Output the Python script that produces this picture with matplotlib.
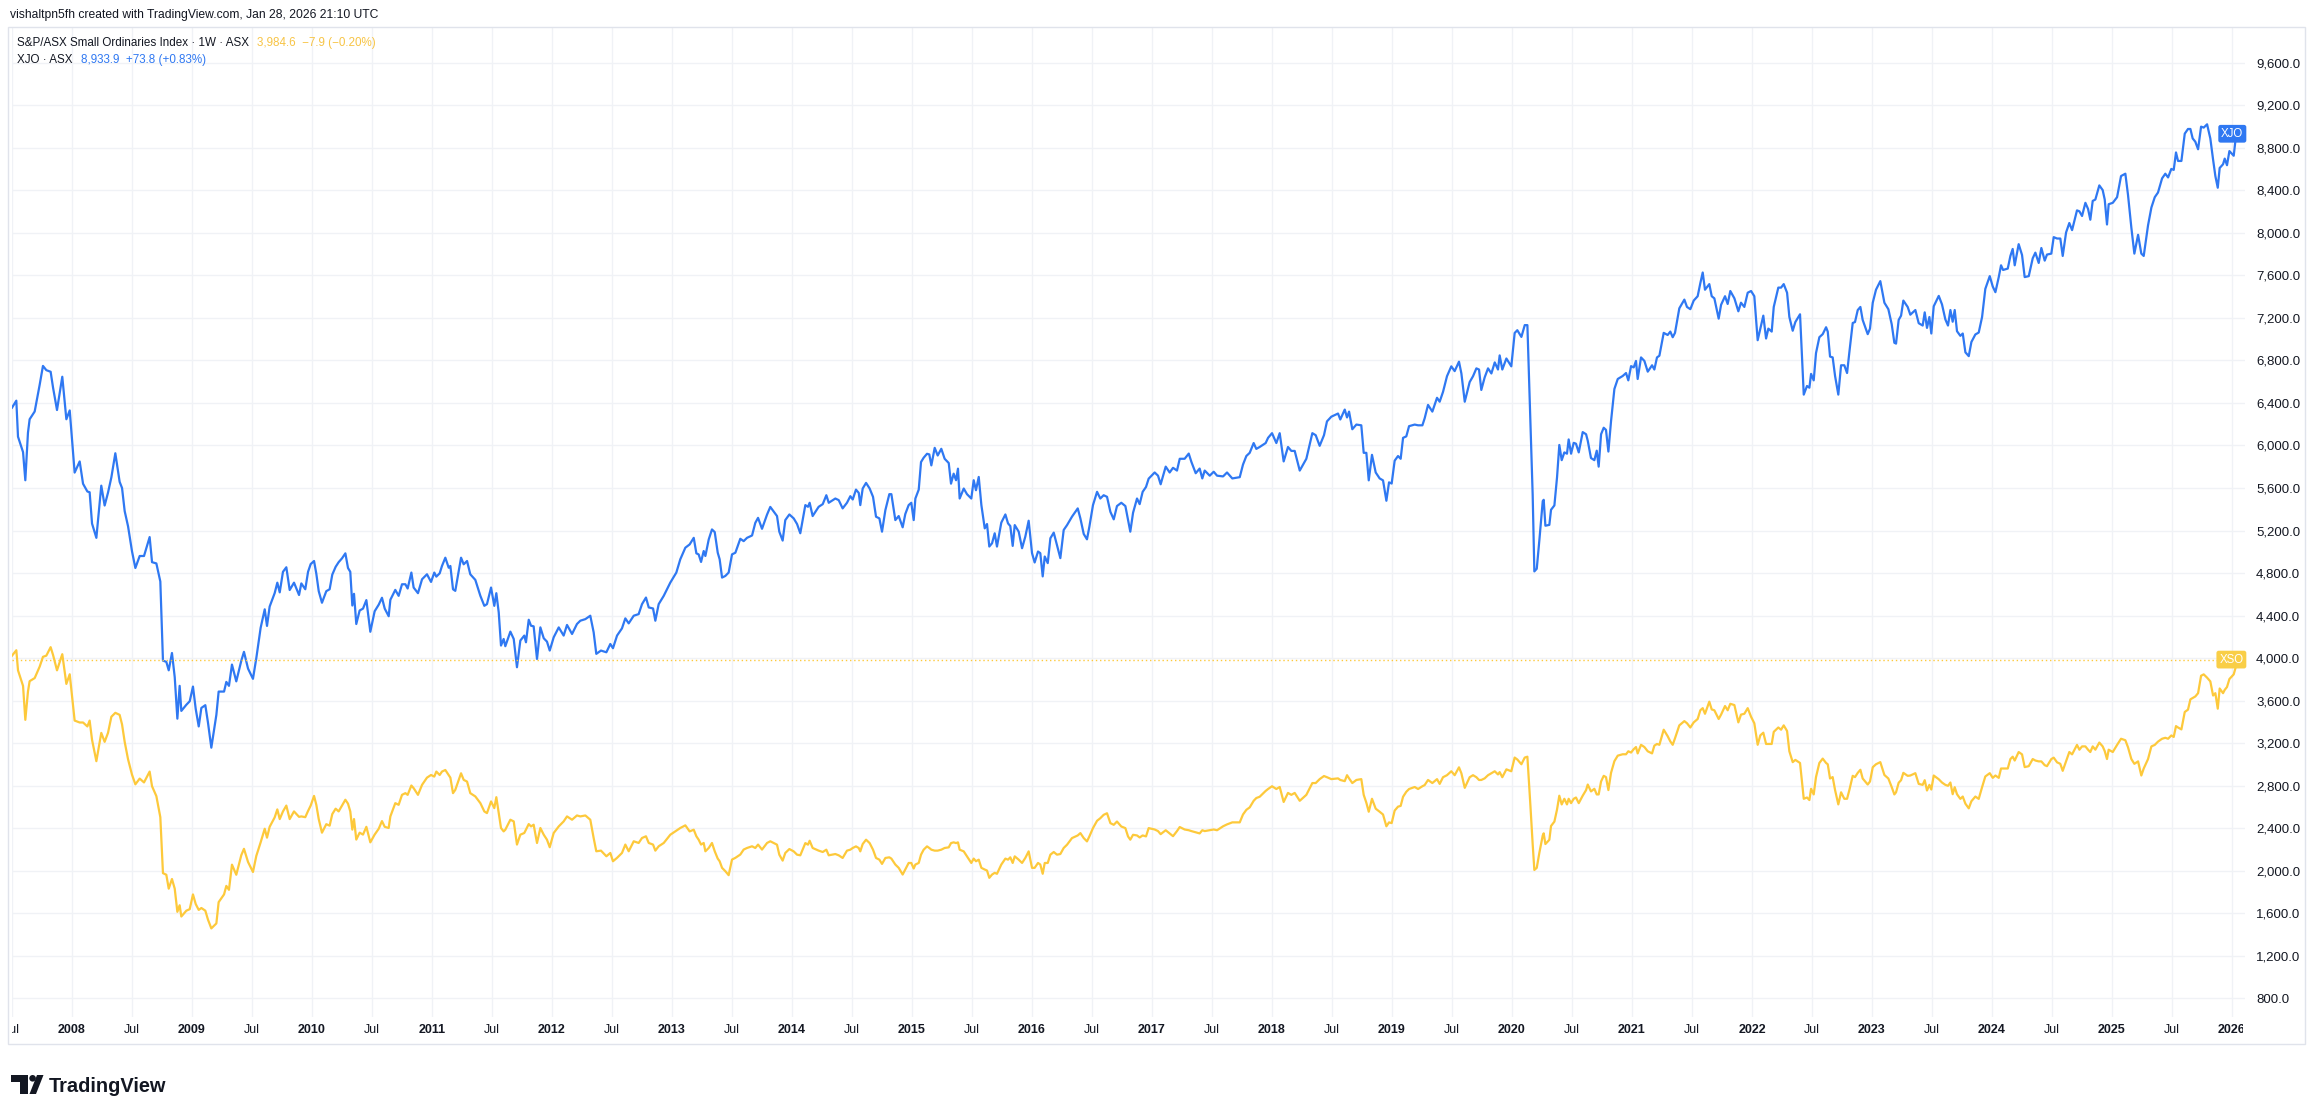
import numpy as np
import matplotlib
matplotlib.use('Agg')
from matplotlib import pyplot as plt
from matplotlib.patches import Rectangle, Circle, Polygon
from matplotlib.ticker import FuncFormatter
import matplotlib.transforms as mtransforms

W, H = 2315, 1103

# weekly closes, decimal years
weeks = [
    2007.500, 2007.536, 2007.550, 2007.592, 2007.611, 2007.633, 2007.647, 2007.689, 2007.731, 2007.758,
    2007.786, 2007.822, 2007.842, 2007.875, 2007.919, 2007.953, 2007.981, 2008.022, 2008.064, 2008.092,
    2008.128, 2008.147, 2008.167, 2008.203, 2008.244, 2008.272, 2008.300, 2008.328, 2008.361, 2008.397,
    2008.417, 2008.439, 2008.467, 2008.500, 2008.528, 2008.564, 2008.600, 2008.647, 2008.667, 2008.703,
    2008.736, 2008.758, 2008.786, 2008.806, 2008.833, 2008.856, 2008.878, 2008.897, 2008.911, 2008.953,
    2008.981, 2009.008, 2009.031, 2009.056, 2009.078, 2009.111, 2009.133, 2009.161, 2009.203, 2009.222,
    2009.267, 2009.286, 2009.308, 2009.333, 2009.369, 2009.411, 2009.433, 2009.467, 2009.508, 2009.536,
    2009.572, 2009.606, 2009.625, 2009.647, 2009.689, 2009.711, 2009.731, 2009.758, 2009.786, 2009.814,
    2009.850, 2009.892, 2009.911, 2009.944, 2009.967, 2009.989, 2010.017, 2010.036, 2010.056, 2010.083,
    2010.119, 2010.147, 2010.169, 2010.197, 2010.222, 2010.250, 2010.278, 2010.300, 2010.319, 2010.336,
    2010.350, 2010.369, 2010.397, 2010.425, 2010.453, 2010.486, 2010.522, 2010.556, 2010.583, 2010.606,
    2010.639,
    # 2010 H2 - 2013
    2010.653, 2010.694, 2010.722, 2010.750, 2010.778, 2010.797, 2010.828, 2010.847, 2010.883, 2010.917,
    2010.958, 2010.992, 2011.019, 2011.036, 2011.064, 2011.083, 2011.111, 2011.139, 2011.153, 2011.175,
    2011.194, 2011.242, 2011.264, 2011.292, 2011.319, 2011.361, 2011.403, 2011.436, 2011.458, 2011.492,
    2011.519, 2011.536, 2011.556, 2011.575, 2011.597, 2011.611, 2011.653, 2011.681, 2011.708, 2011.736,
    2011.769, 2011.783, 2011.806, 2011.825, 2011.847, 2011.875, 2011.903, 2011.931, 2011.958, 2011.981,
    2012.014, 2012.056, 2012.097, 2012.125, 2012.167, 2012.208, 2012.236, 2012.278, 2012.319, 2012.347,
    2012.369, 2012.408, 2012.453, 2012.486, 2012.508, 2012.542, 2012.583, 2012.611, 2012.639, 2012.681,
    2012.722, 2012.750, 2012.783, 2012.806, 2012.842, 2012.861, 2012.889, 2012.931, 2012.986, 2013.036,
    2013.069, 2013.111, 2013.147, 2013.181, 2013.203, 2013.222, 2013.242, 2013.264, 2013.278, 2013.306,
    2013.333, 2013.356, 2013.381, 2013.397, 2013.417, 2013.444, 2013.472, 2013.500, 2013.528, 2013.569,
    2013.597, 2013.625, 2013.667, 2013.694, 2013.717, 2013.750, 2013.792, 2013.819,
    # 2014 - 2016
    2013.875, 2013.894, 2013.922, 2013.944, 2013.978, 2014.014, 2014.042, 2014.069, 2014.111, 2014.133,
    2014.147, 2014.172, 2014.222, 2014.256, 2014.286, 2014.306, 2014.361, 2014.389, 2014.422, 2014.458,
    2014.486, 2014.506, 2014.533, 2014.556, 2014.569, 2014.589, 2014.617, 2014.647, 2014.675, 2014.700,
    2014.728, 2014.750, 2014.778, 2014.811, 2014.828, 2014.861, 2014.889, 2014.922, 2014.944, 2014.972,
    2014.994, 2015.014, 2015.028, 2015.056, 2015.075, 2015.097, 2015.125, 2015.144, 2015.161, 2015.189,
    2015.214, 2015.244, 2015.272, 2015.306, 2015.325, 2015.347, 2015.367, 2015.383, 2015.397, 2015.431,
    2015.458, 2015.494, 2015.514, 2015.533, 2015.556, 2015.578, 2015.606, 2015.625, 2015.644, 2015.667,
    2015.689, 2015.708, 2015.744, 2015.778, 2015.800, 2015.819, 2015.839, 2015.856, 2015.889, 2015.917,
    2015.944, 2015.972, 2016.000, 2016.022, 2016.050, 2016.069, 2016.089, 2016.106, 2016.131, 2016.153,
    2016.181, 2016.208, 2016.236, 2016.264, 2016.292, 2016.333, 2016.381, 2016.403, 2016.431, 2016.458,
    2016.478, 2016.508, 2016.542, 2016.569, 2016.597, 2016.625, 2016.653, 2016.681, 2016.708, 2016.744,
    2016.778, 2016.800, 2016.819, 2016.842, 2016.875, 2016.897, 2016.922, 2016.950, 2016.972,
    # 2017 - Feb 2020
    2017.022, 2017.050, 2017.072, 2017.114, 2017.147, 2017.175, 2017.208, 2017.231, 2017.272, 2017.306,
    2017.328, 2017.364, 2017.397, 2017.419, 2017.439, 2017.481, 2017.514, 2017.542, 2017.592, 2017.625,
    2017.669, 2017.731, 2017.758, 2017.786, 2017.814, 2017.847, 2017.869, 2017.897, 2017.947, 2017.967,
    2018.000, 2018.036, 2018.064, 2018.097, 2018.133, 2018.161, 2018.189, 2018.231, 2018.286, 2018.336,
    2018.364, 2018.397, 2018.433, 2018.458, 2018.494, 2018.550, 2018.569, 2018.606, 2018.625, 2018.642,
    2018.669, 2018.703, 2018.744, 2018.764, 2018.786, 2018.806, 2018.833, 2018.864, 2018.897, 2018.925,
    2018.953, 2018.975, 2018.997, 2019.022, 2019.050, 2019.072, 2019.092, 2019.119, 2019.142, 2019.189,
    2019.217, 2019.253, 2019.272, 2019.300, 2019.336, 2019.375, 2019.397, 2019.425, 2019.458, 2019.494,
    2019.522, 2019.558, 2019.578, 2019.606, 2019.647, 2019.675, 2019.703, 2019.725, 2019.744, 2019.772,
    2019.800, 2019.828, 2019.856, 2019.883, 2019.897, 2019.919, 2019.953, 2019.994, 2020.022, 2020.044,
    2020.078, 2020.106, 2020.128,
    # Covid crash - Q1 2023
    2020.153, 2020.172, 2020.186, 2020.206, 2020.228, 2020.256, 2020.264, 2020.278, 2020.311, 2020.325,
    2020.353, 2020.375, 2020.394, 2020.414, 2020.436, 2020.458, 2020.472, 2020.492, 2020.514, 2020.533,
    2020.556, 2020.589, 2020.617, 2020.631, 2020.658, 2020.686, 2020.706, 2020.722, 2020.742, 2020.764,
    2020.783, 2020.803, 2020.825, 2020.853, 2020.881, 2020.922, 2020.950, 2020.969, 2020.992, 2021.014,
    2021.033, 2021.047, 2021.075, 2021.103, 2021.131, 2021.167, 2021.186, 2021.208, 2021.228, 2021.264,
    2021.297, 2021.319, 2021.339, 2021.358, 2021.394, 2021.436, 2021.458, 2021.486, 2021.514, 2021.547,
    2021.569, 2021.589, 2021.608, 2021.644, 2021.664, 2021.686, 2021.722, 2021.742, 2021.775, 2021.797,
    2021.819, 2021.853, 2021.886, 2021.908, 2021.936, 2021.964, 2021.992, 2022.019, 2022.047, 2022.069,
    2022.094, 2022.117, 2022.136, 2022.164, 2022.181, 2022.219, 2022.242, 2022.264, 2022.292, 2022.311,
    2022.339, 2022.361, 2022.400, 2022.431, 2022.458, 2022.478, 2022.492, 2022.514, 2022.533, 2022.561,
    2022.589, 2022.617, 2022.631, 2022.650, 2022.672, 2022.692, 2022.719, 2022.742, 2022.769, 2022.792,
    2022.811, 2022.839, 2022.858, 2022.881, 2022.903, 2022.922, 2022.964, 2022.983, 2023.006, 2023.033,
    2023.069, 2023.103, 2023.136, 2023.164, 2023.186, 2023.200, 2023.222, 2023.242, 2023.261, 2023.297,
    # Q2 2023 - Jan 2026
    2023.319, 2023.361, 2023.389, 2023.422, 2023.439, 2023.458, 2023.478, 2023.494, 2023.514, 2023.556,
    2023.583, 2023.611, 2023.633, 2023.653, 2023.672, 2023.689, 2023.708, 2023.736, 2023.756, 2023.778,
    2023.806, 2023.828, 2023.861, 2023.889, 2023.917, 2023.944, 2023.981, 2024.006, 2024.028, 2024.056,
    2024.075, 2024.092, 2024.131, 2024.153, 2024.172, 2024.189, 2024.222, 2024.250, 2024.272, 2024.306,
    2024.339, 2024.361, 2024.389, 2024.411, 2024.439, 2024.458, 2024.494, 2024.514, 2024.542, 2024.569,
    2024.589, 2024.617, 2024.644, 2024.667, 2024.708, 2024.728, 2024.750, 2024.778, 2024.800, 2024.819,
    2024.839, 2024.861, 2024.894, 2024.922, 2024.939, 2024.958, 2024.972, 2025.006, 2025.042, 2025.075,
    2025.111, 2025.133, 2025.161, 2025.186, 2025.217, 2025.244, 2025.264, 2025.300, 2025.328, 2025.356,
    2025.383, 2025.417, 2025.444, 2025.467, 2025.494, 2025.514, 2025.533, 2025.550, 2025.578, 2025.606,
    2025.633, 2025.653, 2025.672, 2025.694, 2025.717, 2025.742, 2025.764, 2025.792, 2025.819, 2025.842,
    2025.861, 2025.881, 2025.897, 2025.925, 2025.939, 2025.958, 2025.978, 2026.014, 2026.028, 2026.050,
]

xjo = [
    6356, 6422, 6083, 5938, 5673, 6120, 6247, 6320, 6574, 6749,
    6709, 6694, 6545, 6334, 6647, 6247, 6330, 5745, 5850, 5640,
    5567, 5560, 5265, 5131, 5622, 5435, 5556, 5700, 5927, 5658,
    5600, 5382, 5240, 5004, 4847, 4960, 4960, 5138, 4902, 4890,
    4720, 3975, 3964, 3884, 4047, 3820, 3429, 3738, 3502, 3560,
    3593, 3731, 3520, 3356, 3530, 3556, 3393, 3156, 3465, 3684,
    3684, 3775, 3738, 3938, 3780, 3975, 4058, 3900, 3804, 4000,
    4284, 4458, 4302, 4484, 4611, 4709, 4618, 4811, 4854, 4640,
    4709, 4593, 4702, 4647, 4811, 4884, 4913, 4793, 4629, 4520,
    4629, 4647, 4785, 4858, 4902, 4938, 4985, 4847, 4811, 4494,
    4604, 4320, 4447, 4465, 4545, 4247, 4440, 4502, 4567, 4465,
    4393,
    4548, 4641, 4585, 4694, 4694, 4654, 4804, 4663, 4610, 4741,
    4788, 4716, 4804, 4766, 4797, 4866, 4944, 4850, 4866, 4647,
    4632, 4944, 4882, 4913, 4788, 4735, 4585, 4491, 4507, 4663,
    4491, 4610, 4429, 4117, 4179, 4111, 4248, 4179, 3913, 4164,
    4211, 4148, 4360, 4304, 4298, 3991, 4288, 4186, 4154, 4070,
    4195, 4288, 4211, 4311, 4226, 4320, 4351, 4366, 4398, 4242,
    4039, 4070, 4054, 4132, 4092, 4211, 4279, 4373, 4326, 4398,
    4413, 4507, 4569, 4476, 4466, 4351, 4507, 4585, 4710, 4804,
    4929, 5038, 5069, 5131, 4985, 4975, 4904, 5007, 4960, 5116,
    5210, 5185, 4991, 4929, 4757, 4772, 4804, 4975, 4991, 5122,
    5100, 5131, 5153, 5272, 5319, 5216, 5350, 5422,
    5336, 5189, 5105, 5298, 5351, 5314, 5261, 5174, 5439, 5423,
    5461, 5336, 5423, 5448, 5532, 5461, 5501, 5486, 5408, 5461,
    5523, 5492, 5585, 5554, 5439, 5595, 5648, 5595, 5517, 5330,
    5314, 5189, 5392, 5542, 5542, 5298, 5336, 5230, 5355, 5439,
    5461, 5298, 5501, 5585, 5844, 5885, 5922, 5916, 5813, 5978,
    5906, 5969, 5875, 5835, 5641, 5735, 5673, 5782, 5501, 5595,
    5542, 5501, 5673, 5579, 5704, 5439, 5220, 5261, 5049, 5080,
    5174, 5049, 5274, 5351, 5267, 5242, 5055, 5251, 5189, 5033,
    5142, 5292, 4987, 4899, 5002, 4987, 4768, 4955, 4893, 5127,
    5180, 5064, 4940, 5205, 5251, 5330, 5408, 5314, 5167, 5117,
    5236, 5439, 5564, 5501, 5532, 5517, 5376, 5305, 5430, 5461,
    5430, 5298, 5189, 5367, 5501, 5448, 5564, 5610, 5688,
    5746, 5716, 5635, 5801, 5746, 5790, 5764, 5875, 5875, 5924,
    5846, 5739, 5783, 5690, 5764, 5716, 5753, 5716, 5709, 5746,
    5690, 5702, 5820, 5901, 5931, 6023, 5968, 5986, 6023, 6072,
    6116, 6023, 6116, 5850, 5986, 5949, 5949, 5764, 5875, 6116,
    6097, 5997, 6097, 6227, 6271, 6301, 6245, 6338, 6264, 6319,
    6153, 6197, 6190, 5931, 5931, 5672, 5912, 5746, 5690, 5672,
    5480, 5653, 5642, 5857, 5901, 5875, 6072, 6086, 6182, 6197,
    6190, 6190, 6256, 6382, 6319, 6449, 6412, 6505, 6652, 6745,
    6700, 6789, 6678, 6412, 6597, 6652, 6726, 6715, 6523, 6641,
    6726, 6678, 6782, 6715, 6848, 6715, 6819, 6745, 7059, 7085,
    7022, 7133, 7133,
    6228, 5538, 4815, 4840, 5111, 5477, 5489, 5245, 5253, 5395,
    5436, 5700, 6005, 5862, 5935, 5923, 6057, 5923, 6025, 6017,
    5935, 6126, 6106, 6045, 5882, 5862, 5951, 5801, 6106, 6167,
    6147, 5943, 6228, 6532, 6626, 6654, 6682, 6613, 6747, 6735,
    6796, 6626, 6829, 6796, 6695, 6755, 6715, 6829, 6845, 7060,
    7040, 7072, 7019, 7060, 7291, 7373, 7304, 7283, 7364, 7405,
    7527, 7628, 7466, 7519, 7405, 7385, 7194, 7324, 7405, 7332,
    7454, 7385, 7263, 7344, 7304, 7438, 7454, 7405, 6991, 7100,
    7222, 7007, 7100, 7072, 7304, 7486, 7486, 7519, 7438, 7210,
    7080, 7162, 7235, 6479, 6560, 6544, 6674, 6613, 6869, 7019,
    7048, 7113, 7072, 6837, 6829, 6654, 6479, 6755, 6755, 6682,
    6877, 7153, 7162, 7275, 7304, 7182, 7048, 7100, 7344, 7466,
    7547, 7344, 7283, 7141, 6967, 6959, 7182, 7222, 7364, 7304,
    7231, 7275, 7151, 7129, 7253, 7107, 7209, 7054, 7310, 7408,
    7328, 7187, 7129, 7275, 7165, 7275, 7076, 7032, 7054, 6877,
    6841, 6974, 7045, 7063, 7209, 7474, 7594, 7496, 7443, 7585,
    7696, 7652, 7665, 7784, 7850, 7696, 7895, 7793, 7585, 7594,
    7762, 7815, 7718, 7859, 7740, 7797, 7806, 7961, 7948, 7948,
    7784, 8005, 8094, 8027, 8213, 8204, 8160, 8284, 8227, 8125,
    8302, 8315, 8448, 8404, 8315, 8080, 8271, 8284, 8337, 8536,
    8558, 8359, 8050, 7806, 7983, 7806, 7784, 8072, 8240, 8337,
    8381, 8514, 8558, 8523, 8603, 8594, 8758, 8678, 8678, 8935,
    8979, 8979, 8890, 8859, 8788, 9001, 8992, 9023, 8890, 8691,
    8536, 8426, 8612, 8647, 8700, 8638, 8771, 8727, 8868, 8934,
]

xso = [
    4022, 4073, 3884, 3738, 3418, 3684, 3782, 3811, 3920, 4011,
    4022, 4102, 4029, 3884, 4036, 3756, 3847, 3411, 3393, 3393,
    3356, 3411, 3230, 3029, 3295, 3211, 3295, 3447, 3484, 3465,
    3375, 3211, 3047, 2902, 2811, 2865, 2829, 2931, 2793, 2700,
    2502, 1975, 1960, 1829, 1920, 1829, 1611, 1673, 1567, 1622,
    1636, 1775, 1684, 1629, 1647, 1622, 1538, 1455, 1502, 1702,
    1775, 1855, 1818, 2055, 1960, 2145, 2204, 2080, 1986, 2138,
    2265, 2393, 2309, 2411, 2500, 2575, 2484, 2556, 2611, 2484,
    2556, 2505, 2509, 2502, 2560, 2611, 2702, 2618, 2484, 2356,
    2436, 2422, 2531, 2582, 2556, 2611, 2666, 2629, 2556, 2385,
    2484, 2291, 2356, 2338, 2411, 2265, 2338, 2393, 2465, 2411,
    2400,
    2509, 2634, 2618, 2712, 2728, 2712, 2800, 2775, 2712, 2806,
    2874, 2899, 2884, 2931, 2899, 2931, 2946, 2899, 2874, 2728,
    2759, 2915, 2853, 2837, 2728, 2697, 2634, 2556, 2540, 2650,
    2587, 2690, 2540, 2400, 2368, 2384, 2478, 2462, 2244, 2337,
    2353, 2384, 2437, 2415, 2431, 2259, 2400, 2337, 2290, 2219,
    2353, 2415, 2462, 2509, 2478, 2518, 2509, 2518, 2478, 2306,
    2181, 2187, 2134, 2165, 2087, 2119, 2165, 2244, 2181, 2275,
    2259, 2306, 2322, 2259, 2244, 2187, 2228, 2259, 2337, 2375,
    2400, 2425, 2368, 2384, 2322, 2290, 2244, 2259, 2181, 2212,
    2259, 2181, 2112, 2087, 2025, 1994, 1956, 2103, 2119, 2150,
    2197, 2212, 2228, 2212, 2244, 2197, 2259, 2275,
    2243, 2149, 2093, 2165, 2202, 2180, 2149, 2143, 2258, 2243,
    2280, 2212, 2187, 2174, 2196, 2143, 2155, 2143, 2118, 2187,
    2196, 2212, 2227, 2212, 2180, 2249, 2290, 2258, 2196, 2118,
    2102, 2062, 2118, 2124, 2112, 2056, 2025, 1962, 2009, 2071,
    2071, 2019, 2056, 2071, 2149, 2196, 2227, 2212, 2196, 2187,
    2187, 2196, 2212, 2218, 2258, 2265, 2258, 2265, 2196, 2180,
    2133, 2071, 2112, 2087, 2102, 2025, 2009, 2000, 1931, 1962,
    1978, 1969, 2056, 2112, 2102, 2124, 2071, 2133, 2102, 2071,
    2118, 2180, 2025, 2025, 2071, 2056, 1969, 2071, 2071, 2149,
    2174, 2149, 2155, 2212, 2243, 2305, 2330, 2352, 2305, 2274,
    2321, 2399, 2468, 2492, 2524, 2539, 2446, 2430, 2461, 2414,
    2399, 2321, 2290, 2336, 2330, 2311, 2330, 2321, 2399,
    2386, 2371, 2342, 2379, 2349, 2323, 2371, 2409, 2386, 2379,
    2371, 2360, 2349, 2379, 2371, 2379, 2386, 2379, 2416, 2434,
    2453, 2453, 2527, 2571, 2594, 2656, 2682, 2694, 2749, 2767,
    2793, 2767, 2786, 2645, 2730, 2712, 2730, 2656, 2712, 2823,
    2823, 2860, 2889, 2878, 2860, 2867, 2852, 2841, 2897, 2867,
    2823, 2852, 2860, 2712, 2638, 2553, 2675, 2582, 2553, 2527,
    2416, 2453, 2446, 2564, 2601, 2608, 2694, 2741, 2767, 2786,
    2767, 2793, 2804, 2852, 2823, 2860, 2815, 2878, 2897, 2934,
    2897, 2971, 2915, 2778, 2878, 2897, 2878, 2852, 2852, 2867,
    2897, 2915, 2934, 2904, 2926, 2878, 2952, 2934, 3063, 3045,
    3000, 3063, 3071,
    2614, 2249, 2005, 2025, 2168, 2330, 2350, 2249, 2289, 2419,
    2460, 2574, 2704, 2622, 2675, 2622, 2675, 2634, 2675, 2687,
    2634, 2704, 2757, 2809, 2744, 2769, 2716, 2716, 2838, 2891,
    2879, 2757, 2919, 3029, 3081, 3094, 3094, 3122, 3110, 3142,
    3162, 3102, 3183, 3162, 3122, 3102, 3175, 3191, 3183, 3325,
    3264, 3215, 3183, 3244, 3366, 3406, 3386, 3346, 3394, 3426,
    3508, 3528, 3475, 3589, 3516, 3508, 3426, 3467, 3548, 3508,
    3569, 3557, 3394, 3467, 3475, 3528, 3447, 3386, 3183, 3272,
    3297, 3191, 3191, 3191, 3305, 3346, 3325, 3366, 3313, 3122,
    3020, 3041, 3012, 2675, 2687, 2663, 2769, 2716, 2879, 3012,
    3053, 3012, 3000, 2866, 2879, 2757, 2622, 2736, 2675, 2675,
    2757, 2891, 2879, 2919, 2948, 2866, 2809, 2838, 2972, 3000,
    3020, 2899, 2866, 2785, 2716, 2736, 2826, 2850, 2919, 2891,
    2894, 2916, 2815, 2806, 2850, 2753, 2806, 2762, 2894, 2859,
    2828, 2806, 2797, 2828, 2718, 2784, 2718, 2674, 2696, 2629,
    2585, 2652, 2696, 2674, 2784, 2885, 2916, 2872, 2894, 2872,
    2960, 2960, 2960, 3049, 3071, 3035, 3115, 3093, 2973, 2982,
    3049, 3035, 3027, 3027, 2991, 2982, 3049, 3062, 3018, 3004,
    2938, 3027, 3115, 3093, 3182, 3137, 3168, 3168, 3137, 3115,
    3168, 3137, 3204, 3168, 3124, 3049, 3137, 3115, 3182, 3240,
    3226, 3160, 3049, 3004, 3027, 2894, 2960, 3049, 3168, 3182,
    3213, 3240, 3249, 3240, 3271, 3257, 3359, 3346, 3328, 3492,
    3514, 3611, 3624, 3638, 3669, 3833, 3846, 3815, 3780, 3647,
    3669, 3523, 3713, 3669, 3700, 3727, 3802, 3846, 3903, 3985,
]

price_ticks = list(range(800, 9601, 400))
time_ticks = [2007.5 + 0.5 * i for i in range(38)]

header = 'vishaltpn5fh created with TradingView.com, Jan 28, 2026 21:10 UTC'
legend_rows = [
    [('S&P/ASX Small Ordinaries Index \u00b7 1W \u00b7 ASX', 'dark'), ('3,984.6  \u22127.9 (\u22120.20%)', 'xso')],
    [('XJO \u00b7 ASX', 'dark'), ('8,933.9  +73.8 (+0.83%)', 'xjo')],
]

BLUE = '#2F78F2'
YELLOW = '#FDC93B'
DARK = '#131722'
GRID = '#F0F2F6'
COLORS = {'dark': DARK, 'xjo': BLUE, 'xso': '#F7C445'}


def px_rect(left, top, right, bottom):
    return [left / W, 1 - bottom / H, (right - left) / W, (bottom - top) / H]


def draw_logo(fig):
    lax = fig.add_axes(px_rect(11, 1075, 48, 1094))
    lax.set_xlim(0, 37)
    lax.set_ylim(19, 0)
    lax.axis('off')
    lax.add_patch(Polygon([(0, 0), (17, 0), (17, 19), (8.5, 19), (8.5, 6.5), (0, 6.5)], color=DARK, lw=0))
    lax.add_patch(Circle((21.6, 3.3), 3.3, color=DARK, lw=0))
    lax.add_patch(Polygon([(26, 0), (32.5, 0), (25, 19), (18.5, 19)], color=DARK, lw=0))
    fig.text(49 / W, 1 - 1092 / H, 'TradingView', fontsize=14.4, fontweight='bold',
             color=DARK, va='baseline', ha='left')


def draw_legend(fig):
    renderer = fig.canvas.get_renderer()
    fig.text(10 / W, 1 - 15 / H, header, fontsize=8.7, color=DARK, va='center', ha='left')
    for row, y in zip(legend_rows, [43, 60]):
        x = 17
        for text, key in row:
            t = fig.text(x / W, 1 - y / H, text, fontsize=8.4, color=COLORS[key], va='center', ha='left')
            bb = t.get_window_extent(renderer)
            x = bb.x1 + 8


def main():
    plt.rcParams['font.family'] = ['Liberation Sans', 'DejaVu Sans']
    assert len(weeks) == len(xjo) == len(xso)

    fig = plt.figure(figsize=(W / 100, H / 100), dpi=100, facecolor='white')

    ax = fig.add_axes(px_rect(12, 27, 2245, 1017))
    ax.set_xlim(2007.5, 2026.108)
    ax.set_ylim(621.2, 9938.8)
    for s in ax.spines.values():
        s.set_visible(False)
    ax.set_xticks(time_ticks)
    ax.set_yticks(price_ticks)
    ax.grid(True, color=GRID, lw=1)
    ax.set_axisbelow(True)
    ax.yaxis.tick_right()
    ax.yaxis.set_major_formatter(FuncFormatter(lambda v, p: f'{v:,.1f}'))
    ax.tick_params(axis='y', length=0, pad=8, labelsize=9.5, labelcolor=DARK)
    ax.tick_params(axis='x', length=0, labelbottom=False)

    ax.plot(weeks, xso, color=YELLOW, lw=1.6, solid_joinstyle='round')
    ax.plot(weeks, xjo, color=BLUE, lw=1.6, solid_joinstyle='round')
    ax.axhline(xso[-1], color=YELLOW, lw=1.0, ls=(0, (1, 2)))

    trans = mtransforms.blended_transform_factory(ax.transAxes, ax.transData)
    ax.text(0.9993, xjo[-1], 'XJO', transform=trans, ha='right', va='center', color='white',
            fontsize=8.3, bbox=dict(boxstyle='round,pad=0.25,rounding_size=0.2', fc=BLUE, ec='none'))
    ax.text(0.9993, xso[-1], 'XSO', transform=trans, ha='right', va='center', color='white',
            fontsize=8.3, bbox=dict(boxstyle='round,pad=0.25,rounding_size=0.2', fc='#F9CE47', ec='none'))

    # time scale row, labels clipped at the pane edges
    tax = fig.add_axes(px_rect(12, 1017, 2243, 1043))
    tax.set_xlim(2007.5, 2007.5 + (2243 - 12) / 120)
    tax.set_ylim(0, 1)
    tax.axis('off')
    for t in time_ticks:
        if t % 1 == 0:
            tax.text(t, 0.5, str(int(t)), ha='center', va='center', fontsize=9, fontweight='bold',
                     color=DARK, clip_on=True)
        else:
            tax.text(t, 0.5, 'Jul', ha='center', va='center', fontsize=9, color=DARK, clip_on=True)

    fig.patches.append(Rectangle((8 / W, 1 - 1044 / H), (2305 - 8) / W, (1044 - 27) / H,
                                 transform=fig.transFigure, fill=False, ec='#E0E3EB', lw=1))

    draw_legend(fig)
    draw_logo(fig)

    fig.savefig('out.png', dpi=100, facecolor='white')


if __name__ == '__main__':
    main()
